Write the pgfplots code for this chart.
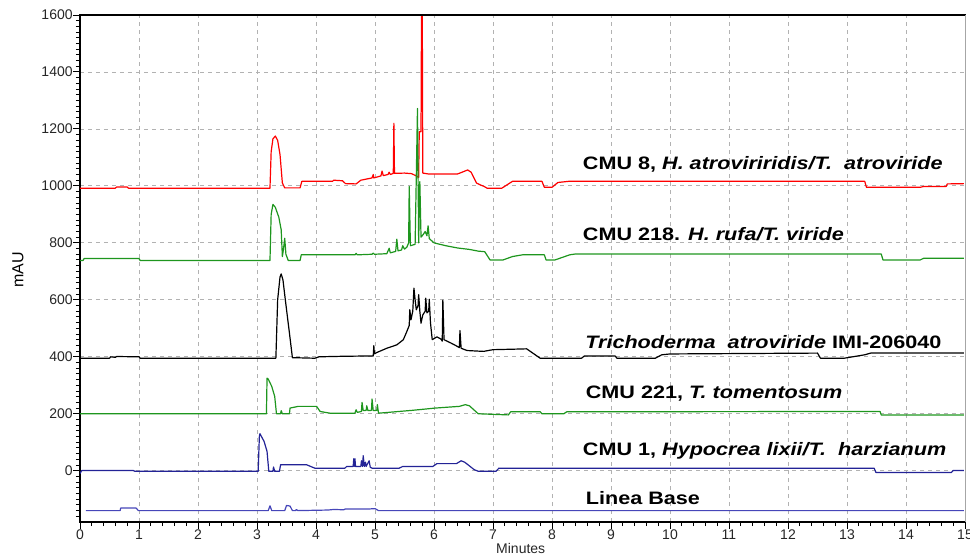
\documentclass[border=0pt]{standalone}
\usepackage{fontspec}
\setmainfont{Liberation Sans}
\newfontfamily\lab[FakeStretch=1.2]{Liberation Sans}
\usepackage{pgfplots}
\pgfplotsset{compat=1.18}
\definecolor{cred}{RGB}{255,0,0}
\definecolor{cgreen}{RGB}{30,150,30}
\definecolor{cblue}{RGB}{35,35,150}
\definecolor{cbase}{RGB}{70,70,185}
\begin{document}
\begin{tikzpicture}
\begin{axis}[
  at={(0,0)}, anchor=south west, scale only axis,
  width=663.75pt, height=380.25pt,
  xmin=0, xmax=15, ymin=-180, ymax=1600,
  xtick={0,1,...,15}, ytick={0,200,...,1600},
  minor xtick={0,0.2,...,15}, minor ytick={-160,-140,...,1600},
  xtick pos=left, ytick pos=left,
  axis line style={black, line width=0.8pt},
  tick align=outside,
  major tick length=5pt, minor tick length=3pt,
  every tick/.style={black, line width=0.7pt},
  grid=major,
  major grid style={black!30, dash pattern=on 3pt off 3pt, line width=0.6pt},
  minor grid style={draw=none},
  /pgf/number format/assume math mode=true,
  /pgf/number format/1000 sep={},
  ticklabel style={font=\fontsize{10.5}{12}\selectfont, text=black!85},
  xticklabel style={yshift=3pt},
  yticklabel style={xshift=3pt},
  every axis plot/.append style={line width=0.9pt, line join=round},
]
% CMU 8 (red)
\addplot[cred, sharp plot] coordinates {
(0,992) (0.6,992) (0.62,996) (0.8,996) (0.82,992) (3.22,992) (3.24,1120) (3.27,1165) (3.31,1175) (3.35,1160) (3.39,1110) (3.43,1010) (3.47,993) (3.73,993) (3.76,1016) (4.28,1016) (4.3,1020) (4.45,1018) (4.5,1008) (4.68,1007) (4.76,1020) (4.95,1028) (4.97,1040) (4.98,1028) (5.1,1035) (5.12,1052) (5.14,1036) (5.22,1040) (5.24,1048) (5.26,1040) (5.31,1044) (5.32,1220) (5.33,1044) (5.5,1045) (5.62,1043) (5.7,1035) (5.74,1030) (5.75,1190) (5.78,1190) (5.79,1700) (5.8,1700) (5.81,1045) (5.9,1042) (6.4,1042) (6.5,1050) (6.57,1056) (6.63,1048) (6.72,1010) (6.78,1004) (6.85,998) (6.9,992) (7.15,992) (7.3,1012) (7.33,1016) (7.83,1016) (7.87,995) (8.0,995) (8.1,1012) (8.28,1016) (13.3,1016) (13.33,995) (14.24,995) (14.3,998) (14.68,998) (14.7,1007) (15,1008)
};
% CMU 218 (green)
\addplot[cgreen, sharp plot] coordinates {
(0,738) (0.05,738) (0.07,745) (1.0,745) (1.02,738) (3.22,738) (3.24,900) (3.27,935) (3.31,925) (3.37,890) (3.41,846) (3.43,752) (3.45,780) (3.47,816) (3.49,760) (3.53,738) (3.73,738) (3.75,758) (4.66,758) (4.68,763) (4.7,758) (4.95,760) (4.97,764) (4.99,760) (5.2,762) (5.24,781) (5.26,765) (5.35,770) (5.37,813) (5.39,772) (5.45,775) (5.47,790) (5.5,778) (5.54,785) (5.57,800) (5.58,998) (5.6,790) (5.68,795) (5.72,1272) (5.74,800) (5.76,1015) (5.78,820) (5.82,830) (5.85,840) (5.88,825) (5.9,860) (5.92,815) (6.0,800) (6.2,790) (6.4,782) (6.6,777) (6.75,771) (6.86,769) (6.95,740) (7.17,740) (7.33,752) (7.5,758) (7.87,758) (7.9,740) (8.05,740) (8.3,758) (8.4,761) (13.58,761) (13.61,740) (14.24,740) (14.3,746) (15,746)
};
% Trichoderma atroviride IMI-206040 (black)
\addplot[black, sharp plot] coordinates {
(0,395) (0.5,395) (0.52,400) (0.6,398) (0.62,401) (1.0,400) (1.02,395) (3.32,395) (3.35,600) (3.39,680) (3.41,691) (3.44,670) (3.48,600) (3.55,483) (3.6,397) (3.98,395) (4.05,400) (4.5,402) (4.97,403) (4.98,439) (4.99,410) (5.03,415) (5.2,430) (5.37,442) (5.48,460) (5.54,489) (5.58,510) (5.59,565) (5.61,530) (5.64,560) (5.66,641) (5.68,600) (5.7,565) (5.73,580) (5.74,618) (5.76,560) (5.78,518) (5.81,547) (5.85,560) (5.86,606) (5.88,554) (5.91,560) (5.92,602) (5.94,520) (5.97,460) (6.05,470) (6.12,462) (6.14,455) (6.15,599) (6.17,460) (6.29,448) (6.4,436) (6.43,432) (6.44,492) (6.46,430) (6.56,422) (6.84,419) (7.0,425) (7.4,427) (7.57,428) (7.8,395) (8.5,395) (8.55,403) (9.07,403) (9.1,395) (9.75,395) (9.86,407) (10.0,410) (12.5,413) (12.55,395) (12.95,395) (13.3,407) (13.4,413) (15,413)
};
% CMU 221 (green)
\addplot[cgreen, sharp plot] coordinates {
(0,200) (3.16,200) (3.17,325) (3.19,322) (3.25,296) (3.3,261) (3.33,200) (3.4,200) (3.41,211) (3.43,200) (3.55,200) (3.56,220) (3.7,226) (4.01,226) (4.07,208) (4.24,202) (4.66,202) (4.68,214) (4.7,205) (4.77,208) (4.78,240) (4.8,211) (4.85,212) (4.86,228) (4.88,211) (4.94,212) (4.95,252) (4.97,211) (5.03,212) (5.04,232) (5.06,202) (5.63,212) (6.02,220) (6.43,226) (6.53,232) (6.6,228) (6.75,200) (7.26,196) (7.3,207) (7.8,207) (7.83,200) (8.2,200) (8.25,207) (13.56,208) (13.58,196) (15,196)
};
% CMU 1 (blue)
\addplot[cblue, sharp plot] coordinates {
(0,-10) (0.03,1) (0.9,1) (0.93,-2) (3.02,-2) (3.04,120) (3.05,130) (3.12,103) (3.17,68) (3.2,-2) (3.27,-2) (3.28,13) (3.3,-2) (3.38,-2) (3.4,21) (3.84,21) (3.98,9) (4.49,9) (4.52,15) (4.63,15) (4.64,42) (4.65,15) (4.66,42) (4.67,15) (4.76,15) (4.77,35) (4.79,15) (4.8,53) (4.82,15) (4.84,30) (4.85,15) (4.9,35) (4.92,12) (4.95,9) (5.41,9) (5.47,15) (5.98,15) (6.05,25) (6.38,25) (6.46,35) (6.52,30) (6.68,4) (6.75,-2) (7.05,-2) (7.1,9) (13.46,9) (13.49,-6) (14.77,-6) (14.8,1) (15,1)
};
% Linea Base
\addplot[cbase, sharp plot] coordinates {
(0.1,-140) (0.68,-140) (0.69,-131) (0.95,-131) (0.99,-140) (3.19,-140) (3.22,-123) (3.25,-140) (3.47,-140) (3.5,-122) (3.56,-124) (3.6,-140) (3.65,-140) (3.67,-136) (3.69,-140) (4.2,-138) (4.3,-136) (4.47,-137) (4.5,-134) (4.92,-134) (5.0,-133) (5.06,-140) (15,-140)
};
\coordinate (SW) at (rel axis cs:0,0);
\coordinate (NE) at (rel axis cs:1,1);
\coordinate (NW) at (rel axis cs:0,1);
\coordinate (SE) at (rel axis cs:1,0);
\coordinate (YL) at (rel axis cs:0,0.497);
\coordinate (XL) at (rel axis cs:0.498,0);
\begin{scope}[every node/.style={anchor=west, inner sep=0pt, font=\lab\bfseries\fontsize{13.5}{15}\selectfont}]
\node at (axis cs:8.52,1077) {CMU 8, \textit{H. atroviriridis/T.~~atroviride}};
\node at (axis cs:8.52,830) {CMU 218. \textit{H. rufa/T. viride}};
\node at (axis cs:8.56,453) {\textit{Trichoderma~~atroviride} IMI-206040};
\node at (axis cs:8.57,270) {CMU 221, \textit{T. tomentosum}};
\node at (axis cs:8.52,70) {CMU 1, \textit{Hypocrea lixii/T.~~harzianum}};
\node at (axis cs:8.57,-95) {Linea Base};
\end{scope}
\end{axis}
\draw[white, line width=1.2pt] ([yshift=0.6pt]SE) -- ([yshift=-0.6pt]NE);
\draw[black!35, line width=0.6pt] (SE) -- (NE);
\draw[black, line width=0.8pt] (NW) -- (NE);
\node[rotate=90, font=\fontsize{12}{14}\selectfont] at ([xshift=-46.5pt]YL) {mAU};
\node[font=\fontsize{10.5}{12}\selectfont, text=black!85] at ([yshift=-20pt]XL) {Minutes};
\pgfresetboundingbox
\path[use as bounding box] ([xshift=-60pt,yshift=-27pt]SW) rectangle ([xshift=3.75pt,yshift=11.25pt]NE);
\end{tikzpicture}
\end{document}
